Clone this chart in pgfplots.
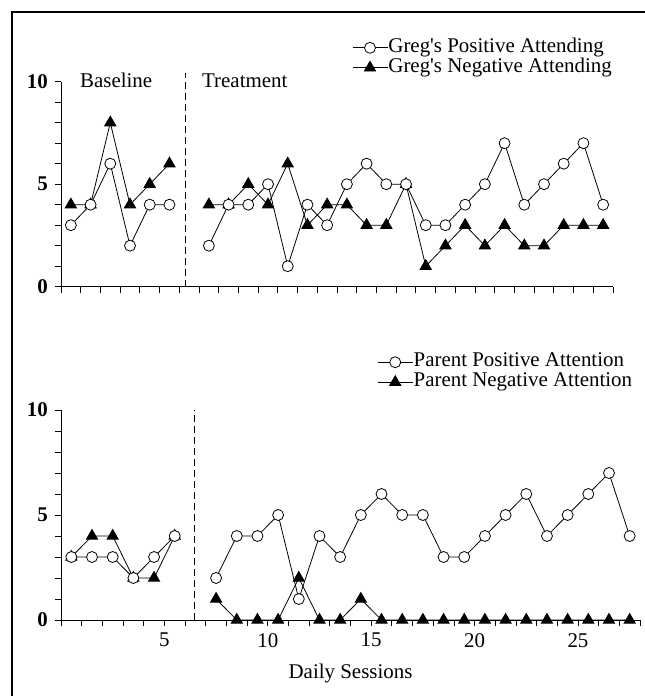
\documentclass[border=0pt]{standalone}
\usepackage{pgfplots}
\pgfplotsset{compat=1.18}
\usepackage{fontspec}
\setmainfont{Liberation Serif}
\begin{document}
\fontsize{21}{23}\selectfont
\begin{tikzpicture}[x=1bp,y=1bp]
\useasboundingbox (0,0) rectangle (645,696);
\draw[line width=2bp] (12,0) -- (12,684) -- (645,684);
\pgfplotsset{
  pos/.style={black, line width=0.8bp, mark=*, mark size=5.5bp, mark options={fill=white, solid, line width=0.8bp}},
  neg/.style={black, line width=0.8bp, mark=triangle*, mark size=6.5bp, mark options={fill=black, solid}},
  panel/.style={
    scale only axis, axis lines=left, axis line style={-, line width=0.8bp},
    xmin=0, xmax=28, ymin=0, ymax=10,
    tick align=outside, major tick length=6bp, minor tick length=6bp,
    every tick/.style={black, line width=0.8bp},
    ytick={0,5,10}, minor ytick={1,2,3,4,6,7,8,9},
    yticklabel style={font=\bfseries},
    /pgf/number format/assume math mode=true,
    clip=false, anchor=south west,
    legend cell align=left,
    legend image code/.code={
      \draw[mark repeat=2, mark phase=2, #1] plot coordinates {(0bp,0bp) (17.5bp,0bp) (35bp,0bp)};
    },
    legend style={draw=none, fill=none, inner sep=0pt, row sep=0pt,
      nodes={inner sep=0.5bp, text height=14bp, text depth=5bp, xshift=4bp}},
  }
}
% ---------------- top panel ----------------
\begin{axis}[panel, at={(61bp,409.3bp)}, width=552bp, height=205bp,
  xtick={0,...,28}, xticklabels={},
  legend style={at={(0.527,1.215)}, anchor=north west}]
\addlegendimage{pos}\addlegendentry{Greg\textquotesingle s Positive Attending}
\addlegendimage{neg}\addlegendentry{Greg\textquotesingle s Negative Attending}
\addplot[black, line width=0.8bp, dash pattern=on 7bp off 4bp, forget plot] coordinates {(6.3,0) (6.3,10.4)};
\addplot[neg, forget plot] coordinates {(0.5,4) (1.5,4) (2.5,8) (3.5,4) (4.5,5) (5.5,6)};
\addplot[pos, forget plot] coordinates {(0.5,3) (1.5,4) (2.5,6) (3.5,2) (4.5,4) (5.5,4)};
\addplot[neg, forget plot] coordinates {(7.5,4) (8.5,4) (9.5,5) (10.5,4) (11.5,6) (12.5,3) (13.5,4) (14.5,4) (15.5,3) (16.5,3) (17.5,5) (18.5,1) (19.5,2) (20.5,3) (21.5,2) (22.5,3) (23.5,2) (24.5,2) (25.5,3) (26.5,3) (27.5,3)};
\addplot[pos, forget plot] coordinates {(7.5,2) (8.5,4) (9.5,4) (10.5,5) (11.5,1) (12.5,4) (13.5,3) (14.5,5) (15.5,6) (16.5,5) (17.5,5) (18.5,3) (19.5,3) (20.5,4) (21.5,5) (22.5,7) (23.5,4) (24.5,5) (25.5,6) (26.5,7) (27.5,4)};
\node[anchor=base west, inner sep=0pt] at (axis cs:0.96,9.74) {Baseline};
\node[anchor=base west, inner sep=0pt] at (axis cs:7.15,9.74) {Treatment};
\end{axis}
% ---------------- bottom panel ----------------
\begin{axis}[panel, at={(61bp,76bp)}, width=579bp, height=210bp,
  xtick={5,10,15,20,25}, minor xtick={0,...,28},
  xlabel={Daily Sessions}, xlabel style={yshift=-3bp},
  legend style={at={(0.546,1.276)}, anchor=north west}]
\addlegendimage{pos}\addlegendentry{Parent Positive Attention}
\addlegendimage{neg}\addlegendentry{Parent Negative Attention}
\addplot[black, line width=0.8bp, dash pattern=on 7bp off 4bp, forget plot] coordinates {(6.45,0) (6.45,10)};
\addplot[neg, forget plot] coordinates {(0.5,3) (1.5,4) (2.5,4) (3.5,2) (4.5,2) (5.5,4)};
\addplot[pos, forget plot] coordinates {(0.5,3) (1.5,3) (2.5,3) (3.5,2) (4.5,3) (5.5,4)};
\addplot[neg, forget plot] coordinates {(7.5,1) (8.5,0) (9.5,0) (10.5,0) (11.5,2) (12.5,0) (13.5,0) (14.5,1) (15.5,0) (16.5,0) (17.5,0) (18.5,0) (19.5,0) (20.5,0) (21.5,0) (22.5,0) (23.5,0) (24.5,0) (25.5,0) (26.5,0) (27.5,0)};
\addplot[pos, forget plot] coordinates {(7.5,2) (8.5,4) (9.5,4) (10.5,5) (11.5,1) (12.5,4) (13.5,3) (14.5,5) (15.5,6) (16.5,5) (17.5,5) (18.5,3) (19.5,3) (20.5,4) (21.5,5) (22.5,6) (23.5,4) (24.5,5) (25.5,6) (26.5,7) (27.5,4)};
\end{axis}
\end{tikzpicture}
\end{document}
